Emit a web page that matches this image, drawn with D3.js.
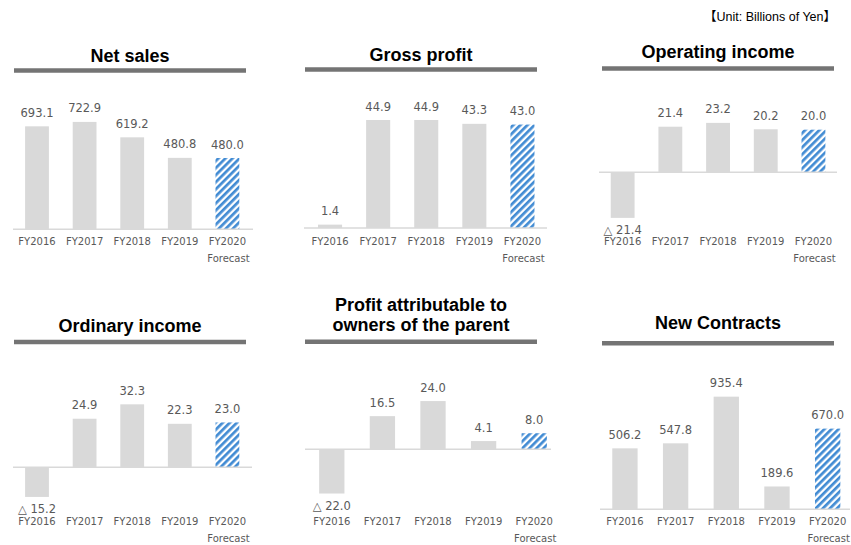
<!DOCTYPE html>
<html>
<head>
<meta charset="utf-8">
<script src="https://cdn.jsdelivr.net/npm/d3@7"></script>
<style>
    body { margin: 0; background: #fff; }
    svg { display: block; }
</style>
</head>
<body>
<div id="chart"></div>
<script>
const years = ["FY2016", "FY2017", "FY2018", "FY2019", "FY2020"];
const netSales = [693.1, 722.9, 619.2, 480.8, 480.0];
const grossProfit = [1.4, 44.9, 44.9, 43.3, 43.0];
const operatingIncome = [-21.4, 21.4, 23.2, 20.2, 20.0];
const ordinaryIncome = [-15.2, 24.9, 32.3, 22.3, 23.0];
const profitOwners = [-22.0, 16.5, 24.0, 4.1, 8.0];
const newContracts = [506.2, 547.8, 935.4, 189.6, 670.0];
const titles = [
    ["Net sales"],
    ["Gross profit"],
    ["Operating income"],
    ["Ordinary income"],
    ["Profit attributable to", "owners of the parent"],
    ["New Contracts"]
];
const forecastYear = "FY2020";
const forecastNote = "Forecast";
const unitLabel = "【Unit: Billions of Yen】";

const series = [netSales, grossProfit, operatingIncome, ordinaryIncome, profitOwners, newContracts];

// where each small chart sits on the page
const layout = [
    { band: [13.2, 251.2], axis: [13, 253], domain: [0, 900], range: [229.3, 95.6], rule: [14, 246, 70.5], titleY: 62.3, catY: 241.5 },
    { band: [306, 546.5], axis: [304, 547], domain: [0, 55], range: [228, 95.7], rule: [305, 537, 69.5], titleY: 61, catY: 241 },
    { band: [598.8, 837.3], axis: [599, 837], domain: [-30, 40], range: [236.2, 87.1], rule: [602, 834, 68.5], titleY: 58.3, catY: 241 },
    { band: [13.2, 251.2], axis: [13, 252], domain: [-20, 50], range: [506.3, 369.8], rule: [14, 246, 342], titleY: 331.7, catY: 521 },
    { band: [306.5, 559.5], axis: [305, 551], domain: [-30, 40], range: [509.6, 368.9], rule: [305, 537, 341.7], titleY: 310.7, catY: 521.7 },
    { band: [599.6, 853], axis: [600, 850], domain: [0, 1200], range: [509.3, 364.8], rule: [602, 834, 343.3], titleY: 329.3, catY: 521 }
];

const width = 851, height = 545;
const fmt = d3.format(".1f");
const labelText = v => v < 0 ? "△ " + fmt(-v) : fmt(v);

const svg = d3.select("#chart").append("svg")
    .attr("width", width)
    .attr("height", height)
    .attr("viewBox", [0, 0, width, height]);

const pattern = svg.append("defs").append("pattern")
    .attr("id", "hatch")
    .attr("patternUnits", "userSpaceOnUse")
    .attr("width", 5)
    .attr("height", 5)
    .attr("patternTransform", "rotate(45)");
pattern.append("rect")
    .attr("width", 5)
    .attr("height", 5)
    .attr("fill", "#fff");
pattern.append("rect")
    .attr("width", 2.7)
    .attr("height", 5)
    .attr("fill", "#418bd3");

svg.append("text")
    .attr("x", 836)
    .attr("y", 21)
    .attr("text-anchor", "end")
    .attr("font-family", "Liberation Sans, Arial, Noto Sans CJK JP, sans-serif")
    .attr("font-size", 12.5)
    .attr("fill", "#000")
    .text(unitLabel);

series.forEach((values, i) => {
    const L = layout[i];
    const data = years.map((y, j) => ({ year: y, value: values[j] }));

    const x = d3.scaleBand()
        .domain(years)
        .range(L.band)
        .paddingInner(0.5)
        .paddingOuter(0.25);

    const y = d3.scaleLinear()
        .domain(L.domain)
        .range(L.range);

    const g = svg.append("g");

    // title and the thick rule under it
    const title = g.append("text")
        .attr("text-anchor", "middle")
        .attr("font-family", "Liberation Sans, Arial, sans-serif")
        .attr("font-weight", "bold")
        .attr("font-size", 18)
        .attr("fill", "#000");
    titles[i].forEach((t, k) => {
        title.append("tspan")
            .attr("x", (L.rule[0] + L.rule[1]) / 2)
            .attr("y", L.titleY + k * 20)
            .text(t);
    });

    g.append("line")
        .attr("x1", L.rule[0])
        .attr("x2", L.rule[1])
        .attr("y1", L.rule[2])
        .attr("y2", L.rule[2])
        .attr("stroke", "#747474")
        .attr("stroke-width", 4.6);

    g.selectAll("rect.bar")
        .data(data)
        .join("rect")
        .attr("class", "bar")
        .attr("x", d => x(d.year))
        .attr("width", x.bandwidth())
        .attr("y", d => y(Math.max(0, d.value)))
        .attr("height", d => Math.abs(y(d.value) - y(0)))
        .attr("fill", d => d.year === forecastYear ? "url(#hatch)" : "#d9d9d9");

    g.append("line")
        .attr("x1", L.axis[0])
        .attr("x2", L.axis[1])
        .attr("y1", y(0))
        .attr("y2", y(0))
        .attr("stroke", "#d9d9d9")
        .attr("stroke-width", 1.5);

    g.selectAll("text.val")
        .data(data)
        .join("text")
        .attr("class", "val")
        .attr("x", d => x(d.year) + x.bandwidth() / 2)
        .attr("y", d => d.value < 0 ? y(d.value) + 12 : y(d.value) - 13.5)
        .attr("dy", "0.35em")
        .attr("text-anchor", "middle")
        .attr("font-family", "DejaVu Sans, Verdana, sans-serif")
        .attr("font-size", 11.5)
        .attr("fill", "#595959")
        .text(d => labelText(d.value));

    g.selectAll("text.cat")
        .data(years)
        .join("text")
        .attr("class", "cat")
        .attr("x", d => x(d) + x.bandwidth() / 2)
        .attr("y", L.catY)
        .attr("dy", "0.35em")
        .attr("text-anchor", "middle")
        .attr("font-family", "DejaVu Sans, Verdana, sans-serif")
        .attr("font-size", 10)
        .attr("fill", "#595959")
        .text(d => d);

    g.append("text")
        .attr("x", x(forecastYear) + x.bandwidth() / 2 + 1)
        .attr("y", L.catY + 17)
        .attr("dy", "0.35em")
        .attr("text-anchor", "middle")
        .attr("font-family", "DejaVu Sans, Verdana, sans-serif")
        .attr("font-size", 10)
        .attr("fill", "#595959")
        .text(forecastNote);
});
</script>
</body>
</html>
